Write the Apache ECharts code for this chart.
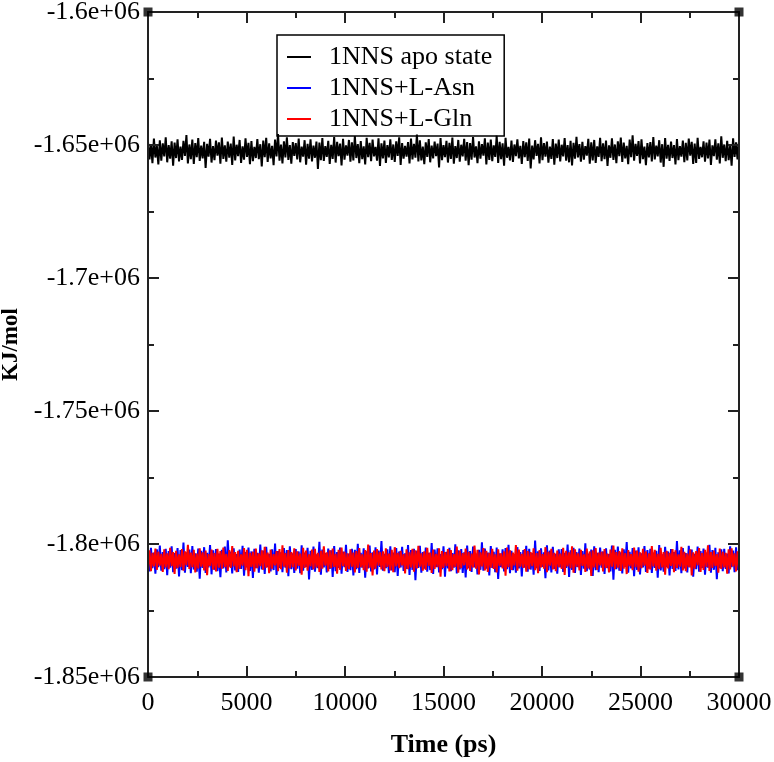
<!DOCTYPE html>
<html>
<head>
<meta charset="utf-8">
<script src="https://cdn.jsdelivr.net/npm/echarts@6/dist/echarts.min.js"></script>
<style>html,body{margin:0;padding:0;background:#fff;}#chart{width:774px;height:762px;}</style>
</head>
<body>
<div id="chart"></div>
<script>
// Time axis: samples every 75 ps from 0 to 30000 ps
const times = Array.from({length: 401}, (_, i) => i * 75);

const seriesNames = ['1NNS apo state', '1NNS+L-Asn', '1NNS+L-Gln'];

const apoValues = [
-1648900,-1655400,-1649700,-1656800,-1647600,-1654700,-1650300,-1657300,-1648200,-1655900,
-1649400,-1654300,-1647100,-1656500,-1650000,-1655100,-1648600,-1657800,-1649100,-1654900,
-1647900,-1656200,-1650600,-1655600,-1648400,-1654100,-1646300,-1656900,-1649800,-1655300,
-1648000,-1657100,-1649300,-1654600,-1647400,-1656000,-1650200,-1655000,-1648800,-1658600,
-1649600,-1654400,-1647700,-1656600,-1650400,-1655700,-1648300,-1654000,-1649000,-1657000,
-1647200,-1655200,-1650100,-1656300,-1648700,-1654800,-1649500,-1657500,-1646800,-1655800,
-1649900,-1654200,-1648100,-1656700,-1650500,-1655500,-1647500,-1654500,-1649200,-1657200,
-1648500,-1656100,-1650700,-1654900,-1647800,-1655300,-1649700,-1658100,-1648300,-1654600,
-1647300,-1656400,-1649400,-1655000,-1650300,-1657600,-1648000,-1654300,-1645900,-1655900,
-1649800,-1656900,-1648600,-1654700,-1647100,-1655600,-1650000,-1657000,-1648900,-1654100,
-1649300,-1655400,-1647600,-1656500,-1650600,-1654400,-1648200,-1657400,-1649600,-1655100,
-1647900,-1656200,-1650200,-1654800,-1648700,-1659000,-1649100,-1655700,-1647400,-1656000,
-1650400,-1654500,-1648400,-1657100,-1649900,-1655200,-1647000,-1656600,-1648800,-1654200,
-1649500,-1657700,-1647700,-1655500,-1650100,-1654000,-1648100,-1656300,-1649000,-1655800,
-1646600,-1654900,-1649700,-1656800,-1648500,-1655300,-1650500,-1657300,-1647300,-1654600,
-1649200,-1656100,-1648000,-1654300,-1650700,-1655900,-1647500,-1657900,-1649400,-1655000,
-1648300,-1656700,-1650000,-1654700,-1647900,-1655600,-1649800,-1656400,-1648600,-1654100,
-1647100,-1657500,-1649300,-1655100,-1650300,-1654400,-1648900,-1656900,-1647600,-1655400,
-1649600,-1654800,-1646100,-1656200,-1648200,-1655800,-1650600,-1657200,-1649000,-1654500,
-1647800,-1656500,-1650200,-1655000,-1648700,-1654200,-1649500,-1658400,-1647400,-1655700,
-1650000,-1654600,-1648400,-1656600,-1649200,-1655200,-1647200,-1657000,-1650400,-1654900,
-1648100,-1656300,-1649900,-1654300,-1647700,-1655900,-1648900,-1657600,-1649300,-1655500,
-1647000,-1654700,-1650500,-1656800,-1648600,-1655100,-1649700,-1654000,-1647500,-1657300,
-1649100,-1655600,-1648000,-1656100,-1650100,-1654500,-1646500,-1656700,-1648800,-1655300,
-1649400,-1657800,-1647300,-1654800,-1650700,-1655800,-1648300,-1656400,-1649800,-1654200,
-1647900,-1655000,-1650300,-1657100,-1648500,-1654600,-1649000,-1656000,-1647600,-1658800,
-1650200,-1655400,-1648200,-1654100,-1649600,-1656900,-1647100,-1655700,-1649300,-1654400,
-1648700,-1656600,-1650600,-1655200,-1647800,-1657400,-1649500,-1654900,-1648000,-1656200,
-1649900,-1654300,-1647400,-1655900,-1650000,-1656500,-1648400,-1657700,-1649200,-1655100,
-1646900,-1654700,-1649700,-1656300,-1648800,-1655500,-1650400,-1654000,-1647700,-1657000,
-1649000,-1655800,-1648100,-1656700,-1650500,-1654500,-1647300,-1656100,-1649400,-1655300,
-1648300,-1657900,-1650100,-1654800,-1647500,-1655600,-1649800,-1656800,-1648600,-1654200,
-1647200,-1656400,-1649100,-1655000,-1650300,-1657200,-1648000,-1654600,-1646400,-1655900,
-1649600,-1654100,-1648500,-1656900,-1647900,-1655300,-1650600,-1657600,-1649300,-1654700,
-1648900,-1656200,-1647000,-1655400,-1650200,-1654300,-1648200,-1656600,-1649700,-1658200,
-1647400,-1655100,-1649900,-1656000,-1648700,-1654900,-1650000,-1657300,-1647800,-1655700,
-1650400,-1654400,-1648300,-1656500,-1649200,-1655800,-1647600,-1654000,-1648800,-1657100,
-1649500,-1656700,-1647300,-1655200,-1650700,-1654600,-1648600,-1656300,-1649100,-1655000,
-1648000,-1657500,-1650100,-1654200,-1647900,-1655500,-1649400,-1656900,-1646700,-1654800,
-1649800,-1656100,-1648400,-1655700,-1650300,-1657800,-1647500,-1654500,-1649000,-1655400,
-1648600];

const asnValues = [
-1802500,-1810300,-1801400,-1809100,-1803200,-1811200,-1802000,-1808700,-1800600,-1810000,
-1803000,-1809500,-1801800,-1811700,-1802700,-1808900,-1800900,-1810600,-1803400,-1809300,
-1801500,-1812200,-1802300,-1809800,-1799500,-1810800,-1803100,-1808600,-1802100,-1811000,
-1800800,-1809600,-1803500,-1810400,-1801700,-1813000,-1802600,-1809000,-1801200,-1810900,
-1803300,-1808800,-1800400,-1811400,-1802400,-1809700,-1801900,-1810200,-1803600,-1812500,
-1802200,-1809200,-1801000,-1810700,-1798600,-1808500,-1802900,-1811100,-1801600,-1809900,
-1803800,-1810500,-1802100,-1809400,-1800700,-1811900,-1803000,-1808800,-1801300,-1810100,
-1802800,-1812800,-1801800,-1809100,-1803300,-1810800,-1800200,-1809600,-1802500,-1811300,
-1801100,-1808700,-1803700,-1810300,-1802000,-1809800,-1799800,-1811600,-1802700,-1809000,
-1803100,-1810600,-1801500,-1808900,-1802300,-1812100,-1800900,-1809500,-1803500,-1810900,
-1801900,-1809300,-1802800,-1811000,-1800500,-1810000,-1803200,-1808600,-1801400,-1813300,
-1802600,-1809700,-1801000,-1810400,-1803900,-1809100,-1799200,-1811500,-1802100,-1808800,
-1803400,-1810700,-1801700,-1809400,-1802400,-1812400,-1800800,-1810200,-1803000,-1809000,
-1801300,-1811200,-1802900,-1808700,-1800300,-1810500,-1803600,-1809800,-1801800,-1811800,
-1802200,-1809500,-1799900,-1810900,-1803300,-1808900,-1801600,-1812700,-1802700,-1809200,
-1800600,-1810300,-1803100,-1809600,-1801200,-1811400,-1802500,-1808600,-1798900,-1810000,
-1803700,-1809100,-1802000,-1811000,-1800900,-1809900,-1803200,-1810600,-1801500,-1812000,
-1802800,-1808800,-1801100,-1810100,-1803500,-1809400,-1800400,-1811600,-1802300,-1809700,
-1801800,-1813600,-1802600,-1809000,-1800700,-1810800,-1803000,-1809300,-1801300,-1810400,
-1803300,-1809800,-1799600,-1811300,-1802100,-1808700,-1801600,-1810700,-1803800,-1809500,
-1800900,-1812300,-1802900,-1809200,-1801400,-1810200,-1803400,-1808900,-1800100,-1811100,
-1802400,-1809600,-1801900,-1810900,-1803100,-1812600,-1800600,-1809100,-1802700,-1810500,
-1801000,-1808800,-1803600,-1811400,-1802200,-1809700,-1799400,-1810000,-1801700,-1809300,
-1803200,-1811800,-1800800,-1809000,-1802900,-1810600,-1801300,-1813100,-1803500,-1808700,
-1802000,-1810300,-1801500,-1809500,-1800300,-1811000,-1802600,-1809800,-1803900,-1810800,
-1801200,-1809200,-1803000,-1812200,-1802300,-1808900,-1800700,-1810400,-1801800,-1809600,
-1803400,-1811500,-1798700,-1809100,-1802800,-1810100,-1801600,-1808600,-1803100,-1812900,
-1800500,-1809900,-1802500,-1810700,-1801100,-1809400,-1803700,-1811200,-1802000,-1808800,
-1801900,-1810500,-1803300,-1809000,-1800200,-1812400,-1802400,-1809700,-1801400,-1810900,
-1803000,-1808700,-1801700,-1811600,-1802700,-1809300,-1799700,-1810200,-1803600,-1809600,
-1802100,-1812000,-1800900,-1809800,-1803300,-1810600,-1801300,-1808900,-1802800,-1811300,
-1801600,-1809100,-1803800,-1810300,-1800600,-1813400,-1802200,-1809500,-1801000,-1810000,
-1803100,-1811100,-1802000,-1808600,-1799300,-1810800,-1802900,-1809200,-1801500,-1812100,
-1802500,-1809700,-1801200,-1811400,-1803500,-1808800,-1800800,-1810500,-1802300,-1809300,
-1801800,-1810900,-1803200,-1809000,-1802600,-1812700,-1800400,-1809900,-1803900,-1810400,
-1801100,-1808700,-1802800,-1811800,-1801900,-1809400,-1803000,-1810100,-1798900,-1809600,
-1802400,-1811000,-1801500,-1809200,-1803400,-1810700,-1800700,-1808800,-1802100,-1812300,
-1803700,-1809500,-1801000,-1810400,-1802700,-1809000,-1801700,-1811500,-1803200,-1808900,
-1800300,-1810800,-1802300,-1809700,-1801400,-1813200,-1803100,-1809100,-1802000,-1810200,
-1801800,-1809400,-1803600,-1811100,-1800900,-1808700,-1802500,-1810600,-1801200,-1809800,
-1802900];

const glnValues = [
-1809000,-1802400,-1810200,-1803300,-1808400,-1801700,-1809700,-1802900,-1808100,-1803700,
-1810500,-1802000,-1808800,-1803500,-1809500,-1801400,-1808300,-1803000,-1811300,-1802600,
-1809100,-1803900,-1808600,-1801900,-1810000,-1802800,-1808000,-1800300,-1809400,-1803200,
-1808700,-1802200,-1810700,-1803600,-1809200,-1801600,-1808500,-1803100,-1809900,-1802500,
-1811700,-1803800,-1808200,-1802100,-1809600,-1803400,-1810300,-1801800,-1808900,-1802700,
-1809300,-1801300,-1808700,-1803700,-1810100,-1802300,-1809000,-1800800,-1808400,-1803000,
-1810600,-1802600,-1809400,-1803900,-1808100,-1801500,-1809800,-1802200,-1812100,-1803300,
-1808600,-1802900,-1810400,-1801700,-1809100,-1803500,-1808300,-1802400,-1809700,-1801100,
-1808900,-1803200,-1811000,-1802100,-1809300,-1803800,-1808000,-1802700,-1810200,-1801900,
-1809500,-1800500,-1808500,-1803400,-1810800,-1802300,-1809200,-1803000,-1808700,-1801600,
-1809900,-1802800,-1808200,-1803600,-1811500,-1801400,-1809000,-1802500,-1810000,-1803900,
-1808400,-1802100,-1809600,-1801800,-1808800,-1803300,-1810500,-1802600,-1809300,-1800900,
-1808100,-1803100,-1810300,-1802400,-1809100,-1801700,-1808600,-1803700,-1811200,-1802200,
-1809700,-1801300,-1808300,-1802900,-1810100,-1803500,-1809400,-1802000,-1808500,-1803200,
-1810700,-1802700,-1809000,-1801500,-1808700,-1803900,-1809800,-1802300,-1810400,-1800200,
-1808900,-1803400,-1811800,-1802500,-1809300,-1801900,-1808100,-1803000,-1809600,-1802800,
-1810200,-1801600,-1808600,-1803600,-1809900,-1802200,-1810600,-1801200,-1808400,-1803300,
-1809100,-1802600,-1808000,-1803800,-1811100,-1802000,-1809500,-1803100,-1808800,-1801800,
-1810400,-1802400,-1809200,-1800700,-1808500,-1803500,-1810000,-1802800,-1809700,-1801400,
-1808200,-1803200,-1810900,-1802100,-1809400,-1803700,-1808700,-1801600,-1812300,-1802700,
-1809000,-1803000,-1808300,-1801900,-1810300,-1802300,-1809800,-1803800,-1808600,-1801000,
-1810800,-1802500,-1809100,-1803400,-1808000,-1801700,-1809600,-1802900,-1810100,-1803600,
-1808800,-1800600,-1809300,-1802200,-1811400,-1803100,-1808400,-1801500,-1809900,-1802600,
-1810500,-1803300,-1808900,-1801800,-1809400,-1803900,-1810700,-1802000,-1808200,-1803500,
-1809200,-1802800,-1811900,-1801300,-1808700,-1802400,-1809700,-1803200,-1808100,-1800400,
-1810000,-1802100,-1808500,-1803700,-1809000,-1801900,-1810400,-1802700,-1809500,-1803000,
-1808300,-1801600,-1809800,-1803400,-1811000,-1802300,-1808800,-1803800,-1809300,-1801200,
-1810600,-1802900,-1808100,-1801800,-1809600,-1803300,-1810200,-1802500,-1808700,-1803600,
-1809400,-1801400,-1811600,-1802600,-1808400,-1803100,-1809100,-1800900,-1810800,-1802000,
-1808600,-1803500,-1809900,-1802200,-1808200,-1803900,-1810500,-1801700,-1809200,-1802800,
-1812000,-1802400,-1808800,-1801500,-1809700,-1803200,-1808000,-1802900,-1810300,-1801900,
-1809000,-1803600,-1810700,-1802100,-1808500,-1800600,-1809500,-1803000,-1808900,-1802700,
-1810100,-1801600,-1809300,-1803400,-1811300,-1802300,-1808300,-1803800,-1809800,-1801300,
-1808700,-1802500,-1810400,-1803100,-1809100,-1801800,-1808100,-1802800,-1810900,-1803500,
-1809600,-1800800,-1808400,-1802200,-1810000,-1803700,-1809400,-1801400,-1808800,-1803000,
-1811500,-1802600,-1809200,-1803300,-1808200,-1801900,-1810600,-1802400,-1809000,-1803900,
-1808500,-1801100,-1809900,-1802900,-1810200,-1803600,-1808700,-1802000,-1811800,-1803100,
-1809300,-1802700,-1808000,-1801500,-1810500,-1803400,-1809700,-1802200,-1808600,-1800500,
-1810100,-1803000,-1809000,-1802500,-1808300,-1803800,-1810800,-1801700,-1809400,-1802900,
-1808800,-1803300,-1811200,-1802000,-1809600,-1801600,-1808400,-1803500,-1810300,-1802800,
-1809100];

const seriesColors = ['#000000', '#0000ff', '#ff0000'];

// Plot frame corners (Grace-style corner markers)
const cornerPoints = [[0, -1600000], [30000, -1600000], [0, -1850000], [30000, -1850000]];

const xMin = 0, xMax = 30000, xStep = 5000;
const yMin = -1850000, yMax = -1600000, yStep = 50000;

const FONT = 'Liberation Serif';
const toPairs = vals => vals.map((v, i) => [times[i], v]);

const axisCommon = {
  axisLine: {show: true, onZero: false, lineStyle: {color: '#222', width: 2}},
  axisTick: {show: true, inside: true, length: 11, lineStyle: {color: '#222', width: 2}},
  minorTick: {show: true, splitNumber: 2, length: 6, lineStyle: {color: '#222', width: 2}},
  splitLine: {show: false},
  z: 10
};

const chart = echarts.init(document.getElementById('chart'), null, {renderer: 'canvas'});
chart.setOption({
  animation: false,
  backgroundColor: '#fff',
  grid: {left: 148, right: 35, top: 12, bottom: 85, containLabel: false, outerBoundsMode: 'none'},
  legend: {
    data: seriesNames,
    orient: 'vertical',
    left: 277, top: 35,
    padding: [9, 12, 4, 10],
    itemWidth: 24, itemHeight: 2,
    itemGap: 5,
    icon: 'rect',
    borderColor: '#000', borderWidth: 1.5,
    textStyle: {fontFamily: FONT, fontSize: 26, color: '#000', padding: [0, 0, 0, 13]}
  },
  xAxis: [
    Object.assign({}, axisCommon, {
      type: 'value', position: 'bottom', min: xMin, max: xMax, interval: xStep,
      name: 'Time (ps)', nameLocation: 'middle', nameGap: 55,
      nameTextStyle: {fontFamily: FONT, fontSize: 26, fontWeight: 'bold', color: '#000'},
      axisLabel: {fontFamily: FONT, fontSize: 26, color: '#000', margin: 13, formatter: v => String(v)}
    }),
    Object.assign({}, axisCommon, {
      type: 'value', position: 'top', min: xMin, max: xMax, interval: xStep,
      axisLabel: {show: false}
    })
  ],
  yAxis: [
    Object.assign({}, axisCommon, {
      type: 'value', position: 'left', min: yMin, max: yMax, interval: yStep,
      name: 'KJ/mol', nameLocation: 'middle', nameGap: 121, nameRotate: 90,
      nameTextStyle: {fontFamily: FONT, fontSize: 23, fontWeight: 'bold', color: '#000'},
      axisLabel: {
        fontFamily: FONT, fontSize: 26, color: '#000', margin: 8,
        formatter: v => parseFloat((v / 1e6).toFixed(2)) + 'e+06'
      }
    }),
    Object.assign({}, axisCommon, {
      type: 'value', position: 'right', min: yMin, max: yMax, interval: yStep,
      axisLabel: {show: false}
    })
  ],
  series: [
    {name: seriesNames[0], type: 'line', data: toPairs(apoValues), showSymbol: false, color: seriesColors[0], lineStyle: {width: 2, color: seriesColors[0]}, z: 2},
    {name: seriesNames[1], type: 'line', data: toPairs(asnValues), showSymbol: false, color: seriesColors[1], lineStyle: {width: 2, color: seriesColors[1]}, z: 3},
    {name: seriesNames[2], type: 'line', data: toPairs(glnValues), showSymbol: false, color: seriesColors[2], lineStyle: {width: 2, color: seriesColors[2]}, z: 4},
    {name: 'corners', type: 'scatter', data: cornerPoints, symbol: 'rect', symbolSize: 9, itemStyle: {color: '#000'}, clip: false, z: 12, silent: true}
  ]
});
</script>
</body>
</html>
